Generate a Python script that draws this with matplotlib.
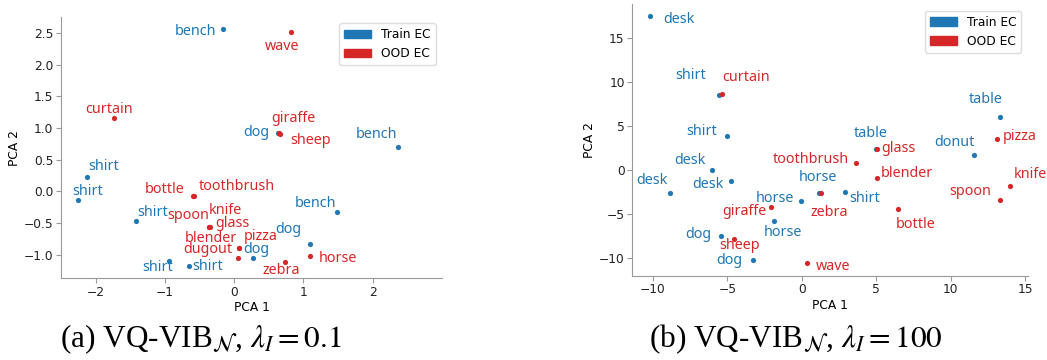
import matplotlib
matplotlib.use("Agg")
import matplotlib.pyplot as plt
from matplotlib.patches import Patch

BLUE = "#1f77b4"
RED = "#d62728"

# panneau (a) : lambda_I = 0.1
names_a = ["bench", "wave", "curtain", "dog", "giraffe", "sheep", "bench",
           "shirt", "shirt", "bottle", "toothbrush", "shirt", "spoon", "knife",
           "glass", "blender", "pizza", "dugout", "dog", "shirt", "shirt",
           "bench", "dog", "horse", "zebra"]
x_a = [-0.16, 0.82, -1.74, 0.63, 0.65, 0.66, 2.37,
       -2.13, -2.25, -0.59, -0.58, -1.42, -0.36, -0.36,
       -0.35, 0.065, 0.065, 0.06, 0.27, -0.94, -0.66,
       1.49, 1.09, 1.10, 0.74]
y_a = [2.56, 2.51, 1.16, 0.92, 0.92, 0.91, 0.70,
       0.22, -0.13, -0.08, -0.08, -0.47, -0.57, -0.57,
       -0.57, -0.90, -0.90, -1.05, -1.06, -1.10, -1.18,
       -0.33, -0.83, -1.03, -1.12]
ood_a = [0, 1, 1, 0, 1, 1, 0,
         0, 0, 1, 1, 0, 1, 1,
         1, 1, 1, 1, 0, 0, 0,
         0, 0, 1, 1]
# decalage des etiquettes (pixels)
off_a = [(-28, -2), (-9, -14), (-5, 8), (-22, 1), (14, 15), (31, -7), (-22, 13),
         (17, 11), (9, 8), (-29, 7), (43, 10), (17, 9), (-21, 12), (16, 17),
         (22, 4), (-28, 10), (22, 12), (-31, 8), (3, 9), (-11, -7), (19, -1),
         (-22, 9), (-21, 14), (27.5, -2), (-4, -8)]

# panneau (b) : lambda_I = 100
names_b = ["desk", "shirt", "curtain", "shirt", "toothbrush", "table", "glass",
           "table", "pizza", "donut", "blender", "knife", "spoon", "bottle",
           "shirt", "horse", "zebra", "horse", "giraffe", "horse", "desk",
           "desk", "desk", "dog", "sheep", "dog", "wave"]
x_b = [-10.18, -5.53, -5.37, -4.99, 3.64, 4.97, 5.08,
       13.33, 13.09, 11.56, 5.08, 14.0, 13.33, 6.49,
       2.88, 1.18, 1.32, -0.05, -2.04, -1.86, -6.0,
       -4.74, -8.86, -5.44, -4.54, -3.29, 0.33]
y_b = [17.56, 8.55, 8.63, 3.88, 0.83, 2.39, 2.39,
       6.08, 3.50, 1.71, -0.95, -1.82, -3.42, -4.41,
       -2.47, -2.58, -2.58, -3.53, -4.22, -5.85, 0.0,
       -1.25, -2.66, -7.49, -7.83, -10.26, -10.64]
ood_b = [0, 0, 1, 0, 1, 0, 1,
         0, 1, 0, 1, 1, 1, 1,
         0, 0, 1, 0, 1, 0, 0,
         0, 0, 0, 1, 0, 1]
off_b = [(28.5, -4), (-28.6, 19), (24, 17), (-25.6, 4), (-45, 3), (-5.5, 15), (21.4, 0),
         (-15, 17), (22.5, 3), (-19.3, 12), (29, 5), (20, 11), (-30.5, 8), (17.5, -16),
         (20, -7), (-1.5, 15), (7.5, -20), (-25.7, 2), (-26.6, -5), (8.5, -11), (-22.3, 9),
         (-23, -4), (-18, 13), (-22, 1), (5, -7), (-23, 0), (26, -3)]

caption_a = r"(a) VQ-VIB$_{\mathcal{N}}$, $\lambda_I = 0.1$"
caption_b = r"(b) VQ-VIB$_{\mathcal{N}}$, $\lambda_I = 100$"

plt.rcParams["mathtext.fontset"] = "stix"
plt.rcParams["font.size"] = 8.8


def panel(ax, names, xs, ys, ood, offs, xlim, ylim, xticks, yticks, leg_anchor):

    # points bleus puis rouges par dessus
    for grp, col in [(0, BLUE), (1, RED)]:
        px = [x for x, g in zip(xs, ood) if g == grp]
        py = [y for y, g in zip(ys, ood) if g == grp]
        ax.scatter(px, py, s=14, color=col, zorder=3, linewidths=0)

    for n, x, y, g, o in zip(names, xs, ys, ood, offs):
        ax.annotate(n, (x, y), xytext=o, textcoords="offset pixels",
                    ha="center", va="center", fontsize=10.3,
                    family="Noto Sans", color=RED if g else BLUE)

    ax.set_xlim(*xlim)
    ax.set_ylim(*ylim)
    ax.set_xticks(xticks)
    ax.set_yticks(yticks)
    ax.set_xlabel("PCA 1", labelpad=2)
    ax.set_ylabel("PCA 2", labelpad=2)
    for s in ["top", "right"]:
        ax.spines[s].set_visible(False)
    for s in ["left", "bottom"]:
        ax.spines[s].set_color("#9a9a9a")
    ax.tick_params(color="#9a9a9a", length=3.5, labelcolor="#222222", pad=2)

    handles = [Patch(color=BLUE, label="Train EC"), Patch(color=RED, label="OOD EC")]
    ax.legend(handles=handles, loc="upper right", bbox_to_anchor=leg_anchor,
              borderaxespad=0, fontsize=8.8, handlelength=2.2, framealpha=1,
              edgecolor="#dddddd")


fig = plt.figure(figsize=(10.47, 3.6), dpi=100)
ax1 = fig.add_axes([0.0583, 0.2278, 0.3639, 0.7242])
ax2 = fig.add_axes([0.604, 0.234, 0.378, 0.755])

panel(ax1, names_a, x_a, y_a, ood_a, off_a, (-2.5, 3.0), (-1.37, 2.75),
      [-2, -1, 0, 1, 2], [-1.0, -0.5, 0.0, 0.5, 1.0, 1.5, 2.0, 2.5], (0.983, 0.977))
panel(ax2, names_b, x_b, y_b, ood_b, off_b, (-11.37, 15.2), (-12.05, 18.9),
      [-10, -5, 0, 5, 10, 15], [-10, -5, 0, 5, 10, 15], (0.982, 0.975))

fig.text(0.192, 0.058, caption_a, ha="center", va="center", fontsize=22.5,
         family="Liberation Serif")
fig.text(0.76, 0.058, caption_b, ha="center", va="center", fontsize=22.5,
         family="Liberation Serif")

fig.savefig("out.png", dpi=100)
